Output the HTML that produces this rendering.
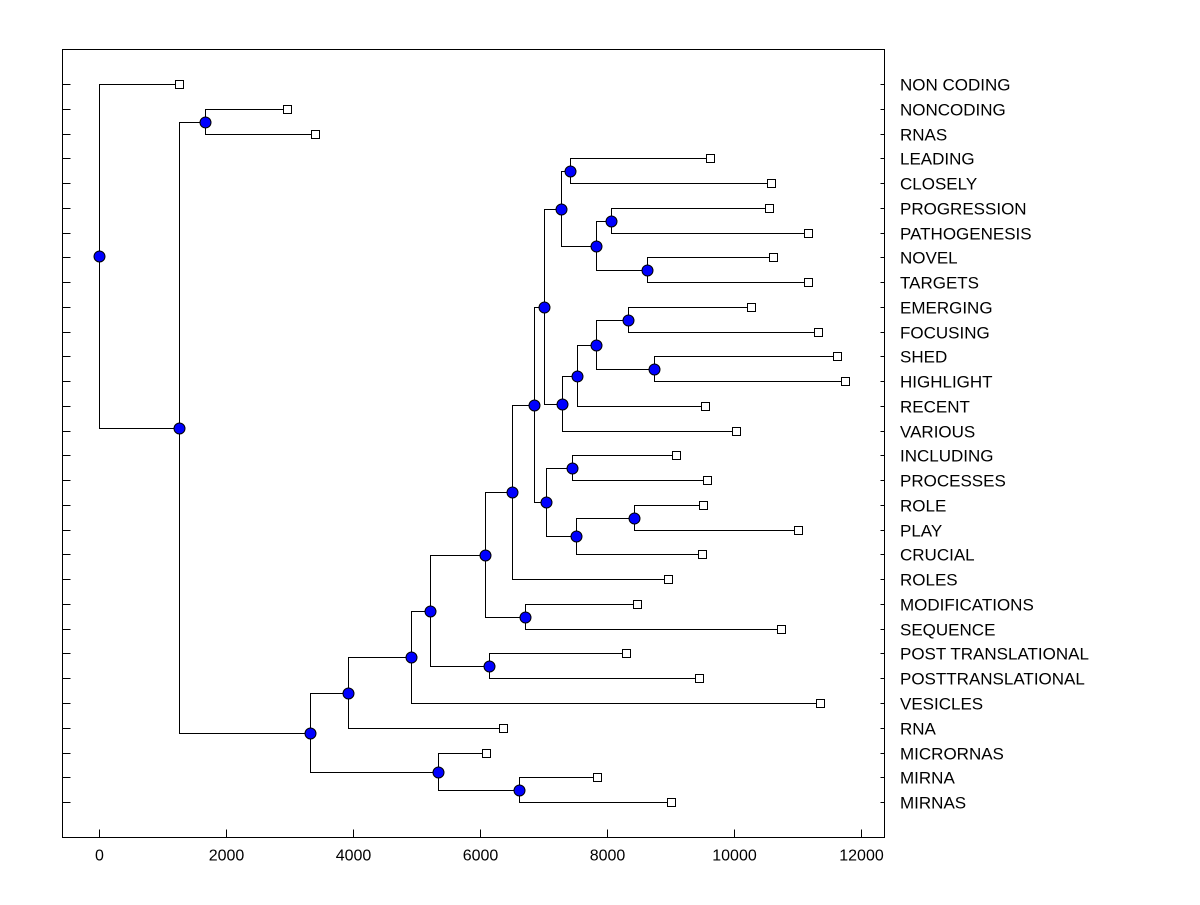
<!DOCTYPE html>
<html><head><meta charset="utf-8"><style>
body{margin:0;background:#fff;}
svg text{font-family:"Liberation Sans",Arial,sans-serif;}
</style></head><body>
<svg id="chart" width="1200" height="900" xmlns="http://www.w3.org/2000/svg"></svg>
<script>
const leafLabels=["NON CODING","NONCODING","RNAS","LEADING","CLOSELY","PROGRESSION","PATHOGENESIS","NOVEL","TARGETS","EMERGING","FOCUSING","SHED","HIGHLIGHT","RECENT","VARIOUS","INCLUDING","PROCESSES","ROLE","PLAY","CRUCIAL","ROLES","MODIFICATIONS","SEQUENCE","POST TRANSLATIONAL","POSTTRANSLATIONAL","VESICLES","RNA","MICRORNAS","MIRNA","MIRNAS"];
const leafValues=[1258,2957,3397,9626,10585,10554,11167,10617,11167,10270,11324,11623,11749,9547,10034,9091,9579,9516,11010,9500,8965,8477,10742,8305,9453,11356,6370,6087,7848,9012];
// internal nodes: [name, height, child1, child2]
const nodeNames=["B","Q","S","T","R","O","W","X","V","U","P","M","Y","AA","Z","N","L","J","K","H","I","G","F","D","BB","E","C","A","ROOT"];
const nodeHeights=[1667,7424,8069,8635,7833,7282,8336,8745,7833,7534,7298,7015,7455,8430,7518,7046,6857,6511,6716,6071,6134,5206,4907,3916,6622,5332,3319,1258,0];
const nodeChildren=[["NONCODING","RNAS"],["LEADING","CLOSELY"],["PROGRESSION","PATHOGENESIS"],["NOVEL","TARGETS"],["S","T"],["Q","R"],["EMERGING","FOCUSING"],["SHED","HIGHLIGHT"],["W","X"],["V","RECENT"],["U","VARIOUS"],["O","P"],["INCLUDING","PROCESSES"],["ROLE","PLAY"],["AA","CRUCIAL"],["Y","Z"],["M","N"],["L","ROLES"],["MODIFICATIONS","SEQUENCE"],["J","K"],["POST TRANSLATIONAL","POSTTRANSLATIONAL"],["H","I"],["G","VESICLES"],["F","RNA"],["MIRNA","MIRNAS"],["MICRORNAS","BB"],["D","E"],["B","C"],["NON CODING","A"]];
const xTicks=[0,2000,4000,6000,8000,10000,12000];

const svg=document.getElementById('chart');
const NS='http://www.w3.org/2000/svg';
const L=62.5,R=884.5,T=49.5,B=837.5;
const x=v=>Math.round(99+v*0.0635)+0.5;
const y=i=>Math.round(84+i*24.76)+0.5;
function mk(tag,attrs){const e=document.createElementNS(NS,tag);for(const k in attrs)e.setAttribute(k,attrs[k]);svg.appendChild(e);return e;}
const frame=mk('rect',{x:L,y:T,width:R-L,height:B-T,fill:'none',stroke:'#000','stroke-width':1,'shape-rendering':'crispEdges'});


const pos={};
leafLabels.forEach((l,i)=>{pos[l]={x:x(leafValues[i]),y:y(i)};});
nodeNames.forEach((n,i)=>{
  const [a,b]=nodeChildren[i];const px=x(nodeHeights[i]);
  const pa=pos[a],pb=pos[b];
  pos[n]={x:px,y:Math.round((pa.y+pb.y)/2-0.5)+0.5};
  const p=mk('path',{d:`M${pa.x},${pa.y}H${px}V${pb.y}H${pb.x}`,fill:'none',stroke:'#000','stroke-width':1,'shape-rendering':'crispEdges'});
  
  
});
leafLabels.forEach((l,i)=>{
  const t1=mk('line',{x1:L,x2:L+8,y1:y(i),y2:y(i),stroke:'#000','shape-rendering':'crispEdges'});
  
  
  const t2=mk('line',{x1:R-4,x2:R,y1:y(i),y2:y(i),stroke:'#000','shape-rendering':'crispEdges'});
  
  
  const tx=mk('text',{x:900,y:y(i)+6,'font-size':17,fill:'#000'});
  tx.textContent=l;
  
  
});
xTicks.forEach(v=>{
  const t=mk('line',{x1:x(v),x2:x(v),y1:B,y2:B-8,stroke:'#000','shape-rendering':'crispEdges'});
  
  
  const tx=mk('text',{x:x(v),y:B+23,'font-size':16,'text-anchor':'middle',fill:'#000'});
  tx.textContent=v;
  
  
});
leafLabels.forEach((l,i)=>{
  const s=mk('rect',{x:pos[l].x-4,y:pos[l].y-4,width:8,height:8,fill:'#fff',stroke:'#000','shape-rendering':'crispEdges'});
  
  
});
nodeNames.forEach(n=>{
  const c=mk('circle',{cx:pos[n].x,cy:pos[n].y,r:5.5,fill:'#0000ff',stroke:'#000','stroke-width':1});
  
  
});
</script>
</body></html>
